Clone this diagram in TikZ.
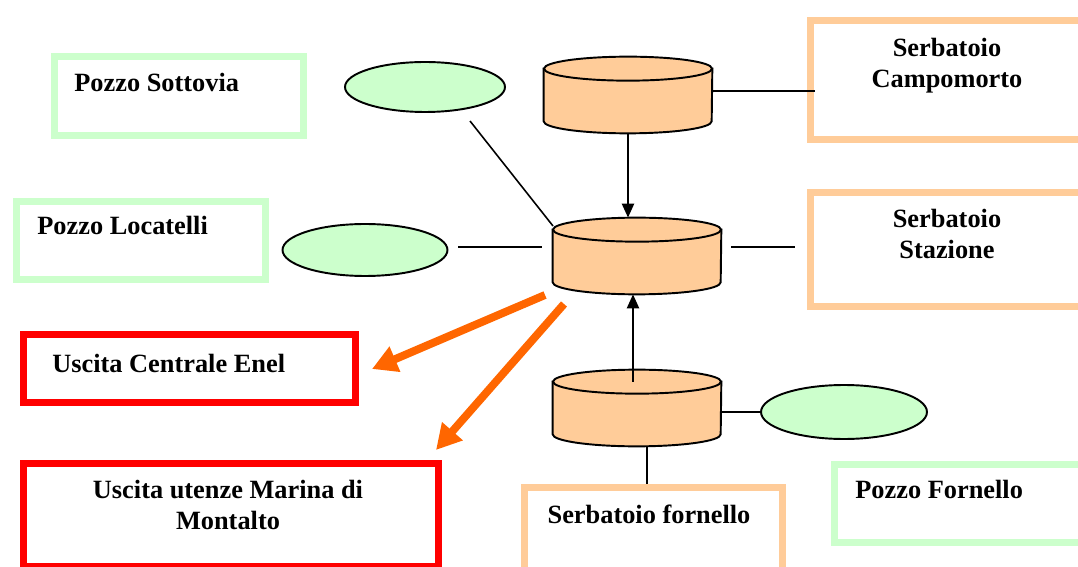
\documentclass[tikz,border=0pt]{standalone}
\usepackage{fontspec}
\setmainfont{Liberation Serif}
\usetikzlibrary{shapes.geometric,positioning,arrows.meta}

\definecolor{wellgreen}{HTML}{CCFFCC}
\definecolor{tankorange}{HTML}{FFCC99}
\definecolor{exitred}{HTML}{FF0000}
\definecolor{floworange}{HTML}{FF6600}

\begin{document}
\begin{tikzpicture}[
x = 0.02cm,
y = -0.02cm,
txt/.style={
  font=\fontsize{15}{17.6}\selectfont\bfseries,
  inner sep=0pt
  },
box/.style={
  rectangle,
  anchor=north west,
  inner sep=0pt,
  line width=4pt
  },
wellbox/.style={box, draw=wellgreen},
tankbox/.style={box, draw=tankorange},
exitbox/.style={box, draw=exitred},
well/.style={
  ellipse,
  draw,
  line width=1.1pt,
  fill=wellgreen,
  inner sep=0pt
  },
tank/.style={
  rectangle,
  inner sep=0pt,
  minimum width=3.36cm,
  minimum height=1.52cm
  },
tankpaint/.style={draw, line width=1.1pt, fill=tankorange},
pipe/.style={draw, line width=0.9pt},
flow/.style={draw, line width=1.3pt, -{Triangle[length=0.28cm,width=0.24cm]}},
outflow/.style={draw=floworange, line width=4.5pt, -{Triangle[length=0.5cm,width=0.52cm]}}
]

\useasboundingbox (0,0) rectangle (1078,567);
\clip (0,0) rectangle (1078,567);

% boxes
\node[wellbox, minimum width=4.98cm, minimum height=1.58cm] (sottovia) at (51,53) {};
\node[wellbox, minimum width=4.98cm, minimum height=1.56cm] (locatelli) at (13,198) {};
\node[exitbox, minimum width=6.64cm, minimum height=1.36cm] (enel) at (20,331) {};
\node[exitbox, minimum width=8.30cm, minimum height=2.06cm] (montalto) at (20,460) {};
\node[tankbox, minimum width=5.16cm, minimum height=2.40cm] (sfornello) at (521,484) {};
\node[tankbox, minimum width=5.60cm, minimum height=2.28cm] (stazione) at (807,189) {};
\node[tankbox, minimum width=5.60cm, minimum height=2.38cm] (campomorto) at (807,17) {};
\node[wellbox, minimum width=5.00cm, minimum height=1.56cm] (pfornello) at (831,461) {};

% texts
\node[txt, anchor=base west] (sottovia-t) at (74,92) {Pozzo Sottovia};
\node[txt, anchor=base west] (locatelli-t) at (37,235) {Pozzo Locatelli};
\node[txt, anchor=base west] (enel-t) at (52,373) {Uscita Centrale Enel};
\node[txt, anchor=north, align=center] (montalto-t) at (228,480) {Uscita utenze Marina di\\Montalto};
\node[txt, anchor=base] (sfornello-t) at (649,523) {Serbatoio fornello};
\node[txt, anchor=north, align=center] (stazione-t) at (947,209) {Serbatoio\\Stazione};
\node[txt, anchor=north, align=center] (campomorto-t) at (947,38) {Serbatoio\\Campomorto};
\node[txt, anchor=base west] (pfornello-t) at (855,498) {Pozzo Fornello};

% wells
\node[well, minimum width=3.2cm, minimum height=1.0cm] (e1) at (425,87) {};
\node[well, minimum width=3.3cm, minimum height=1.04cm] (e2) at (365,250) {};
\node[well, minimum width=3.32cm, minimum height=1.08cm] (e3) at (844,412) {};

% tanks
\node[tank] (c1) at (628,95) {};
\node[tank] (c2) at (637,256) {};
\node[tank] (c3) at (637,408) {};

\foreach \t in {c1,c2,c3}
{
  \path[tankpaint] ([shift={(0,12)}]\t.north west) -- ([shift={(0,-12)}]\t.south west)
    arc[start angle=180, end angle=0, x radius=84, y radius=12]
    -- ([shift={(0,12)}]\t.north east) -- cycle;
  \path[tankpaint] ([shift={(0,12)}]\t.north) ellipse [x radius=84, y radius=12];
}

% pipes
\coordinate (c1r) at ([shift={(0,-4)}]c1.east);
\draw[pipe, shorten >=-0.16cm] (c1r) -- (c1r -| campomorto.west);
\coordinate (e1a) at (470,121);
\coordinate (c2a) at (553,226);
\draw[pipe] (e1a) -- (c2a);
\coordinate (e2r) at ([shift={(0,-3)}]e2.east);
\draw[pipe, shorten <=0.2cm, shorten >=0.22cm] (e2r) -- (e2r -| c2.west);
\coordinate (c2r) at ([shift={(0,-9)}]c2.east);
\draw[pipe, shorten <=0.2cm, shorten >=0.24cm] (c2r) -- (c2r -| stazione.west);
\draw[pipe] (c3.east |- e3.west) -- (e3.west);
\coordinate (c3b) at ([shift={(10,0)}]c3.south);
\draw[pipe] (c3b) -- (c3b |- sfornello.north);

% flows
\draw[flow] (c1.south) -- (c1.south |- c2.north);
\coordinate (c3in) at ([shift={(-4,12)}]c3.north);
\draw[flow] (c3in) -- (c3in |- c2.south);

\coordinate (o1) at (545,295);
\coordinate (enel-in) at (372,369);
\draw[outflow] (o1) -- (enel-in);
\coordinate (o2) at (564,304);
\coordinate (montalto-in) at (436,450);
\draw[outflow] (o2) -- (montalto-in);

\end{tikzpicture}
\end{document}
